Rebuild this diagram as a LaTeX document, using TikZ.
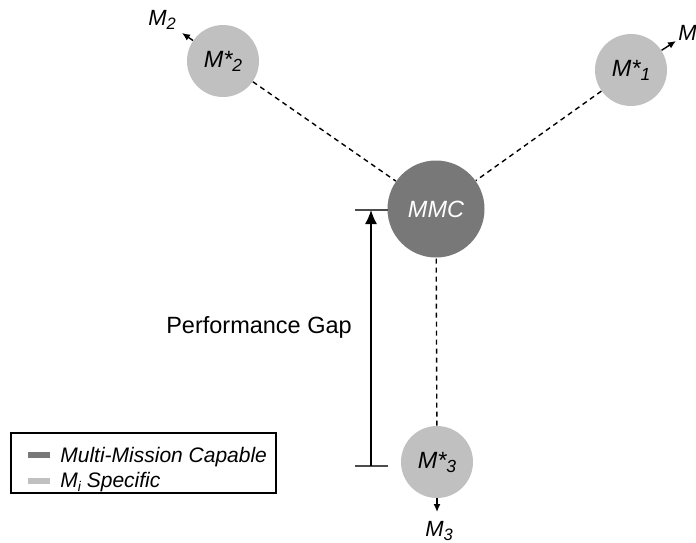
\documentclass[tikz,border=0pt]{standalone}
\usepackage{fontspec}
\setmainfont{Liberation Sans}
\usetikzlibrary{positioning,arrows.meta}
\definecolor{mmcgray}{RGB}{120,120,120}
\definecolor{mgray}{RGB}{192,192,192}
\newcommand{\idx}[2][17.5]{\raisebox{-4pt}{\fontsize{#1}{#1}\selectfont #2}}
\begin{document}
\begin{tikzpicture}[x=1pt, y=-1pt, thick,
    main/.style = {circle, draw=none, fill=mgray, minimum size=72pt, inner sep=0pt, font=\fontsize{23.5}{26}\selectfont\itshape},
    lbl/.style = {inner sep=0pt, anchor=base west, font=\fontsize{22}{24}\selectfont\itshape},
    dashlink/.style = {dash pattern=on 5pt off 4pt, line width=1.4pt},
    outarrow/.style = {-{Latex[length=8pt,width=7pt]}, line width=1.4pt}]
    \useasboundingbox (0,0) rectangle (696,542);

    \node[main, fill=mmcgray, minimum size=97pt, text=white] (0) at (436,209) {MMC};
    \node[main] (1) at (631,70)  {M*\idx{1}};
    \node[main] (2) at (223,61)  {M*\idx{2}};
    \node[main] (3) at (437,462) {M*\idx{3}};

    \draw[dashlink] (2) -- (0);
    \draw[dashlink] (1) -- (0);
    \draw[dashlink] (3) -- (0);

    % mission outputs
    \coordinate (a1) at (676,41);
    \coordinate (a2) at (182,33);
    \coordinate (a3) at (437,512);
    \draw[outarrow] (1) -- (a1);
    \draw[outarrow] (2) -- (a2);
    \draw[outarrow] (3) -- (a3);
    \node[lbl] (m1) at (678,40)  {M};
    \node[lbl] (m2) at (148,25)  {M\idx[16.5]{2}};
    \node[lbl] (m3) at (425,536) {M\idx[16.5]{3}};

    % gap
    \coordinate (gt) at (371,210);
    \coordinate (gb) at (371,466);
    \draw[line width=1.5pt, black!70] ([xshift=-16pt]gt) -- ([xshift=17pt]gt);
    \draw[line width=1.5pt, black!70] ([xshift=-16pt]gb) -- ([xshift=17pt]gb);
    \draw[-{Latex[length=14pt,width=12pt]}, line width=1.4pt] (gb) -- (gt);
    \node[font=\fontsize{23.5}{26}\selectfont] (gap) at (259,327) {Performance Gap};

    % legend
    \draw[line width=1.5pt] (11,433) rectangle (276,493);
    \fill[mmcgray] (28,452) rectangle (50,458);
    \fill[mgray] (28,478) rectangle (50,484);
    \node[lbl, font=\fontsize{21}{24}\selectfont\itshape] (k1) at (60,462) {Multi-Mission Capable};
    \node[lbl, font=\fontsize{21}{24}\selectfont\itshape] (k2) at (60,487) {M\idx[14]{i} Specific};
\end{tikzpicture}
\end{document}
